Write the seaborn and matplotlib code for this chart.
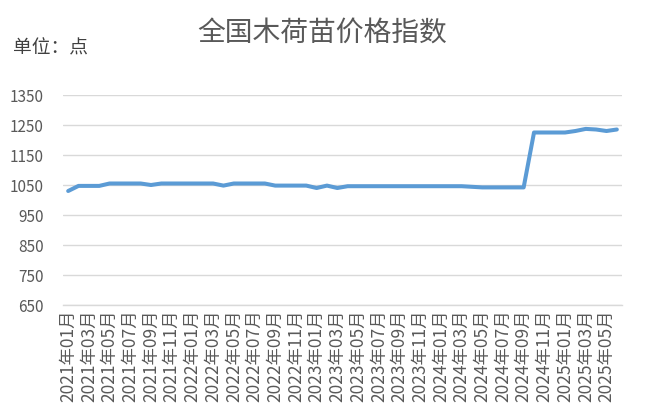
import numpy as np
import pandas as pd
import matplotlib
matplotlib.use("Agg")
import matplotlib.pyplot as plt
import seaborn as sns

sns.set_theme(style="white")
plt.rcParams['font.family'] = ['Noto Sans CJK SC', 'DejaVu Sans']

title = "全国木荷苗价格指数"
unit_label = "单位：点"

years = [2021, 2022, 2023, 2024, 2025]
months = list(range(1, 13))
n_months = 54
month_labels = [f"{y}年{m:02d}月" for y in years for m in months][:n_months]

values = [1030, 1047, 1047, 1047, 1055, 1055, 1055, 1055, 1050, 1055,
          1055, 1055, 1055, 1055, 1055, 1048, 1055, 1055, 1055, 1055,
          1048, 1048, 1048, 1048, 1040, 1048, 1040, 1046, 1046, 1046,
          1046, 1046, 1046, 1046, 1046, 1046, 1046, 1046, 1046, 1044,
          1042, 1042, 1042, 1042, 1042, 1225, 1225, 1225, 1225, 1230,
          1237, 1235, 1230, 1235]

y_ticks = [650, 750, 850, 950, 1050, 1150, 1250, 1350]

df = pd.DataFrame({"idx": np.arange(len(values)), "value": values})

fig = plt.figure(figsize=(6.45, 4.16), dpi=100)
ax = fig.add_axes([63/645, 1-305/416, (622-63)/645, (305-95)/416])

sns.lineplot(data=df, x="idx", y="value", ax=ax, color="#5B9BD5",
             linewidth=2.9, solid_capstyle="round", solid_joinstyle="round")

ax.set_xlim(-0.5, len(values) - 0.5)
ax.set_ylim(y_ticks[0], y_ticks[-1])
ax.set_yticks(y_ticks)
ax.set_yticklabels([str(t) for t in y_ticks], fontsize=11, color="#595959",
                   fontweight="light")
ax.yaxis.grid(True, color="#D9D9D9", linewidth=1)
ax.tick_params(axis="y", length=0, pad=14)

major = list(range(0, len(values), 2))
ax.set_xticks(major)
ax.set_xticklabels([month_labels[i] for i in major], rotation=90,
                   fontsize=12.5, color="#595959", fontweight="light")
ax.set_xticks(np.arange(-0.5, len(values), 2), minor=True)
ax.tick_params(axis="x", which="major", length=0, pad=3)
ax.tick_params(axis="x", which="minor", length=5, color="#D9D9D9", width=1)

for s in ["left", "right", "top"]:
    ax.spines[s].set_visible(False)
ax.spines["bottom"].set_color("#D9D9D9")
ax.spines["bottom"].set_linewidth(1)
ax.set_xlabel("")
ax.set_ylabel("")

fig.text(0.499, 1-33/416, title, ha="center", va="center", fontsize=20,
         color="#595959", fontweight="light")
fig.text(13/645, 1-48/416, unit_label, ha="left", va="center", fontsize=13.5,
         color="#404040", fontweight="light")

fig.savefig("out.png", dpi=100)
